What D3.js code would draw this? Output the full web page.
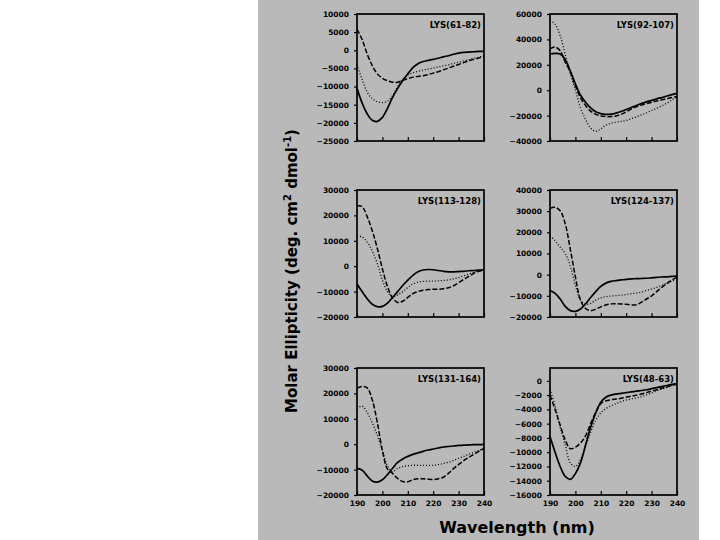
<!DOCTYPE html>
<html>
<head>
<meta charset="utf-8">
<script src="https://cdn.jsdelivr.net/npm/d3@7"></script>
<style>
  body { margin: 0; background: #fff; }
  svg { display: block; }
  .tick text { font-family: "DejaVu Sans", sans-serif; font-weight: bold; font-size: 7.5px; fill: #000; }
</style>
</head>
<body>
<script>
// wavelength grid (nm)
var wavelengths = [190,192,194,196,198,200,202,204,206,208,210,212,214,216,218,220,222,224,226,228,230,232,234,236,238,240]
var xTicks = [190, 200, 210, 220, 230, 240]

// panel titles
var titles = ["LYS(61-82)", "LYS(92-107)", "LYS(113-128)", "LYS(124-137)", "LYS(131-164)", "LYS(48-63)"]

// y axes
var yDomains = [[-25000, 10000], [-40000, 60000], [-20000, 30000], [-20000, 40000], [-20000, 30000], [-16000, 1800]]
var yTicks = [
	[10000, 5000, 0, -5000, -10000, -15000, -20000, -25000],
	[60000, 40000, 20000, 0, -20000, -40000],
	[30000, 20000, 10000, 0, -10000, -20000],
	[40000, 30000, 20000, 10000, 0, -10000, -20000],
	[30000, 20000, 10000, 0, -10000, -20000],
	[0, -2000, -4000, -6000, -8000, -10000, -12000, -14000, -16000]
]

// LYS(61-82)
var p1Solid  = [-10500,-14500,-17500,-19300,-19600,-18500,-16000,-13000,-10500,-8300,-6500,-4800,-3700,-3100,-2800,-2500,-2200,-1800,-1500,-1100,-800,-600,-500,-400,-300,-300]
var p1Dashed = [5800,3000,-1000,-4200,-6500,-7700,-8400,-8800,-8800,-8300,-7800,-7400,-7200,-7000,-6700,-6300,-5900,-5400,-4900,-4400,-3900,-3400,-2900,-2500,-2100,-1700]
var p1Dotted = [-4000,-8000,-11500,-13300,-14200,-14400,-14000,-12500,-10000,-8000,-6800,-6200,-5800,-5500,-5200,-4900,-4600,-4300,-4000,-3600,-3300,-2900,-2600,-2200,-1900,-1500]

// LYS(92-107)
var p2Solid  = [28500,29000,28500,24000,15000,5000,-3800,-9500,-14000,-17000,-18500,-19000,-18800,-18000,-16800,-15200,-13600,-12000,-10500,-9200,-8000,-6800,-5800,-4600,-3500,-2500]
var p2Dashed = [32500,34000,31000,22000,14500,3500,-6000,-12000,-16500,-19000,-20300,-20800,-20800,-20300,-19000,-17000,-14800,-13000,-11600,-10500,-9500,-8500,-7600,-6700,-5800,-5000]
var p2Dotted = [55000,52000,43000,28000,13000,0,-14000,-23000,-29800,-32400,-30500,-27500,-26000,-25200,-24600,-23800,-22500,-21000,-19400,-17800,-16000,-14200,-12300,-10200,-7700,-5000]

// LYS(113-128)
var p3Solid  = [-7000,-10000,-12800,-15000,-15900,-15800,-14500,-12300,-10000,-7600,-5500,-3600,-2200,-1500,-1300,-1400,-1700,-2000,-2200,-2200,-2100,-2000,-1800,-1700,-1500,-1400]
var p3Dashed = [23800,23500,19500,14000,7000,-1000,-8000,-12500,-14300,-13800,-12300,-10800,-10000,-9500,-9200,-9100,-9100,-8900,-8500,-7700,-6500,-5200,-4000,-2800,-2000,-1500]
var p3Dotted = [12000,11500,9500,6000,1000,-5500,-10000,-12000,-11300,-10000,-8400,-7000,-6300,-6000,-5900,-5900,-5800,-5600,-5400,-5000,-4500,-3800,-3100,-2400,-1800,-1400]

// LYS(124-137)
var p4Solid  = [-7500,-8800,-11500,-15000,-17000,-17300,-16200,-13800,-10800,-8000,-5500,-4000,-3200,-2800,-2500,-2200,-2000,-1900,-1800,-1700,-1500,-1300,-1100,-1000,-800,-700]
var p4Dashed = [31400,31800,30200,24000,12000,-1000,-12000,-16000,-17000,-16300,-15200,-14300,-13800,-13700,-13800,-14000,-14300,-14200,-13000,-11500,-10000,-8000,-6000,-4200,-2600,-1200]
var p4Dotted = [18400,16000,13000,10000,4000,-5000,-12000,-14000,-13600,-12000,-11000,-10400,-10100,-9900,-9700,-9400,-9000,-8700,-8200,-7500,-6800,-6000,-5000,-4000,-3000,-2000]

// LYS(131-164)
var p5Solid  = [-9500,-10200,-12500,-14500,-14900,-14000,-12000,-9500,-7200,-5800,-4800,-4000,-3400,-2800,-2300,-1900,-1500,-1100,-900,-700,-500,-400,-300,-200,-150,-100]
var p5Dashed = [22000,22700,22200,17500,8500,-2500,-9800,-11500,-13500,-14700,-14800,-14000,-13600,-13600,-13800,-13900,-13600,-13000,-11500,-9600,-8000,-6500,-5200,-4000,-2800,-1700]
var p5Dotted = [14000,15000,12500,8500,3500,-2500,-8500,-10800,-9500,-8800,-8500,-8300,-8300,-8300,-8300,-8300,-8000,-7600,-7100,-6400,-5600,-4800,-4000,-3200,-2400,-1700]

// LYS(48-63)
var p6Solid  = [-7800,-10000,-12000,-13400,-13800,-13000,-11500,-9000,-6500,-4500,-3000,-2300,-2000,-1850,-1750,-1650,-1550,-1450,-1350,-1250,-1100,-950,-800,-650,-500,-400]
var p6Dashed = [-2000,-4000,-6200,-8300,-9500,-9300,-8700,-7700,-6000,-4400,-3200,-2800,-2650,-2550,-2450,-2300,-2150,-2000,-1850,-1650,-1450,-1250,-1050,-850,-650,-450]
var p6Dotted = [-1200,-3500,-6500,-9000,-11500,-12000,-11000,-9200,-7200,-5500,-4500,-3900,-3500,-3200,-2900,-2700,-2550,-2400,-2200,-1950,-1700,-1400,-1150,-900,-650,-450]

var seriesByPanel = [
	[p1Solid, p1Dashed, p1Dotted],
	[p2Solid, p2Dashed, p2Dotted],
	[p3Solid, p3Dashed, p3Dotted],
	[p4Solid, p4Dashed, p4Dotted],
	[p5Solid, p5Dashed, p5Dotted],
	[p6Solid, p6Dashed, p6Dotted]
]

// line styles: solid, dashed, dotted
var styles = [
	{ width: 1.7, dash: null },
	{ width: 1.5, dash: "5,2" },
	{ width: 1.3, dash: "1,2" }
]

var W = 720, H = 540
var svg = d3.select("body").append("svg").attr("width", W).attr("height", H)

// grey scanned background
svg.append("rect").attr("x", 258).attr("y", 0).attr("width", 441).attr("height", H).attr("fill", "#b9b9b9")

var colLeft = [357, 550]
var rowTop = [14, 190, 368]
var pw = 127, ph = 127

titles.forEach(function(title, i) {
	var col = i % 2, row = Math.floor(i / 2)
	var g = svg.append("g").attr("transform", "translate(" + colLeft[col] + "," + rowTop[row] + ")")

	var x = d3.scaleLinear().domain([190, 240]).range([0, pw])
	var y = d3.scaleLinear().domain(yDomains[i]).range([ph, 0])

	// y axis
	var yAxis = g.append("g")
		.call(d3.axisLeft(y).tickValues(yTicks[i]).tickSize(3).tickPadding(5).tickFormat(d3.format("d")))
	yAxis.select(".domain").remove()
	yAxis.selectAll(".tick line").attr("stroke", "#000").attr("stroke-width", 1.2)

	// x axis (inner ticks), labels only on bottom row
	var xAxis = g.append("g").attr("transform", "translate(0," + ph + ")")
		.call(d3.axisBottom(x).tickValues(xTicks).tickSize(-4).tickPadding(6).tickFormat(row === 2 ? d3.format("d") : ""))
	xAxis.select(".domain").remove()
	xAxis.selectAll(".tick line").attr("stroke", "#000").attr("stroke-width", 1.2)

	// frame
	g.append("rect").attr("width", pw).attr("height", ph)
		.attr("fill", "none").attr("stroke", "#000").attr("stroke-width", 1.7)

	// curves
	var line = d3.line()
		.x(function(d, k) { return x(wavelengths[k]) })
		.y(function(d) { return y(d) })
		.curve(d3.curveCatmullRom.alpha(0.5))

	seriesByPanel[i].forEach(function(vals, s) {
		g.append("path")
			.attr("d", line(vals))
			.attr("fill", "none")
			.attr("stroke", "#000")
			.attr("stroke-width", styles[s].width)
			.attr("stroke-dasharray", styles[s].dash)
	})

	// title
	g.append("text")
		.attr("x", pw - 3).attr("y", 14)
		.attr("text-anchor", "end")
		.attr("font-family", "DejaVu Sans, sans-serif")
		.attr("font-weight", "bold").attr("font-size", 8.5)
		.text(title)
})

// y label
var yl = svg.append("text")
	.attr("transform", "translate(297,271) rotate(-90)")
	.attr("text-anchor", "middle")
	.attr("font-family", "DejaVu Sans, sans-serif")
	.attr("font-weight", "bold").attr("font-size", 15)
yl.append("tspan").text("Molar Ellipticity (deg. cm")
yl.append("tspan").attr("dy", -6).attr("font-size", 10).text("2")
yl.append("tspan").attr("dy", 6).text(" dmol")
yl.append("tspan").attr("dy", -6).attr("font-size", 10).text("-1")
yl.append("tspan").attr("dy", 6).text(")")

// x label
svg.append("text")
	.attr("x", 517).attr("y", 533)
	.attr("text-anchor", "middle")
	.attr("font-family", "DejaVu Sans, sans-serif")
	.attr("font-weight", "bold").attr("font-size", 16)
	.text("Wavelength (nm)")
</script>
</body>
</html>
